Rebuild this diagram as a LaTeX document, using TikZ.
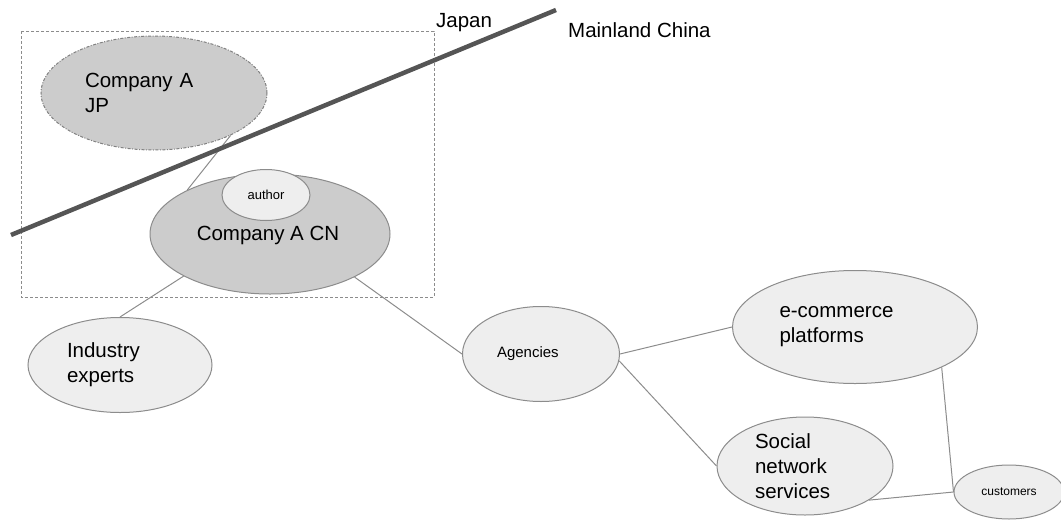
\documentclass[tikz,border=0pt]{standalone}
\usepackage{fontspec}
\setmainfont{Liberation Sans}
\usetikzlibrary{shapes.geometric}

\definecolor{darkfill}{HTML}{CCCCCC}
\definecolor{lightfill}{HTML}{EEEEEE}
\definecolor{edgegray}{HTML}{8C8C8C}
\definecolor{bordergray}{HTML}{555555}

\begin{document}
\begin{tikzpicture}[x=1pt, y=-1pt,
    bubble/.style={ellipse, draw=edgegray, line width=1pt, fill=lightfill, inner sep=0pt},
    link/.style={draw=edgegray, line width=1pt},
    bigtext/.style={inner sep=0pt, align=left, font=\fontsize{20.5}{25}\selectfont}]

    \useasboundingbox (0,0) rectangle (1061,520);

    % Japan office box
    \draw[edgegray, line width=1pt, dash pattern=on 3pt off 2pt] (21,31) rectangle (434,297);
    \node[bigtext, anchor=base west] (japan) at (436,27) {Japan};
    \node[bigtext, anchor=base west] (china) at (568,37) {Mainland China};

    % Nodes
    \node[bubble, fill=darkfill, draw=gray, dash pattern=on 3pt off 1.5pt on 1pt off 1.5pt,
        minimum width=226, minimum height=114] (jp) at (154,93) {};
    \node[bubble, fill=darkfill, minimum width=240, minimum height=120] (cn) at (270,234) {};
    \node[bubble, minimum width=184, minimum height=95] (ind) at (120,365) {};
    \node[bubble, minimum width=157, minimum height=95] (agc) at (541,354) {};
    \node[bubble, minimum width=245, minimum height=113] (ecom) at (855,327) {};
    \node[bubble, minimum width=176, minimum height=98] (sns) at (805,466) {};
    \node[bubble, minimum width=110, minimum height=54] (cust) at (1009,492) {};

    % Connections
    \draw[link] (jp.-29) -- (cn.152);
    \draw[link] (cn.206) -- (ind.north);
    \draw[link] (cn.-27) -- (agc.west);
    \draw[link] (agc.east) -- (ecom.west);
    \draw[link] (agc.-5) -- (sns.west);
    \draw[link] (ecom.-25) -- (cust.west);
    \draw[link] (sns.-28) -- (cust.west);

    % Border line
    \coordinate (borderW) at (11,235);
    \coordinate (borderE) at (556,10);
    \draw[bordergray, line width=4.5pt] (borderW) -- (borderE);

    % Author inside Company A CN
    \node[bubble, minimum width=88, minimum height=51] (author) at (266,195) {};

    % Labels
    \node[bigtext, text width=138] (jptext) at (jp) {Company A\\JP};
    \node[bigtext] (cntext) at (268,235) {Company A CN};
    \node[inner sep=0pt, font=\fontsize{13}{15}\selectfont] (authortext) at (author) {author};
    \node[bigtext, text width=106] (indtext) at (ind) {Industry\\experts};
    \node[inner sep=0pt, align=left, text width=88, font=\fontsize{15}{18}\selectfont] (agctext) at (agc) {Agencies};
    \node[bigtext, text width=151] (ecomtext) at (ecom) {e-commerce\\platforms};
    \node[bigtext, text width=100] (snstext) at (sns) {Social\\network\\services};
    \node[inner sep=0pt, font=\fontsize{12}{14}\selectfont] (custtext) at (cust) {customers};

\end{tikzpicture}
\end{document}
